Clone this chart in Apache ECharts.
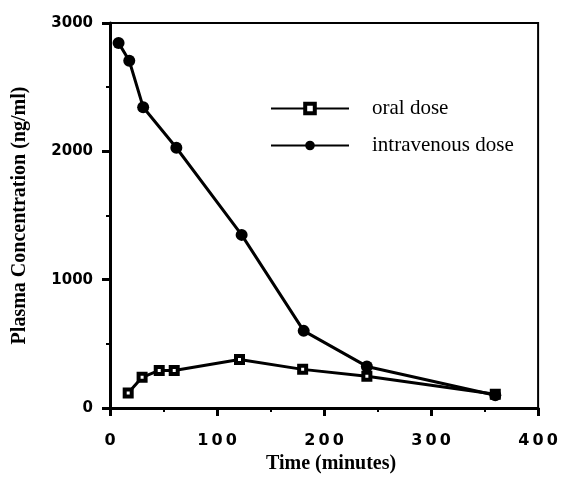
<!DOCTYPE html>
<html><head><meta charset="utf-8">
<script src="https://cdn.jsdelivr.net/npm/echarts@6/dist/echarts.min.js"></script>
<style>html,body{margin:0;padding:0;background:#fff}#c{width:561px;height:479px}</style>
</head><body><div id="c"></div>
<script>
const oralTime = [17, 30, 46, 60, 121, 180, 240, 360];
const oralConc = [116, 239, 293, 293, 378, 301, 247, 108];
const ivTime = [8, 18, 31, 62, 123, 181, 240, 360];
const ivConc = [2845, 2706, 2344, 2028, 1349, 601, 324, 100];
const seriesNames = ['oral dose', 'intravenous dose'];
const xTitle = 'Time (minutes)';
const yTitle = 'Plasma Concentration (ng/ml)';

const chart = echarts.init(document.getElementById('c'), null, {renderer: 'canvas'});
const pair = (xs, ys) => xs.map((x, i) => [x, ys[i]]);
const spaced = v => String(v).split('').join('\u2009');
chart.setOption({
  animation: false,
  backgroundColor: '#fff',
  grid: {left: 110, right: 21, top: 23, bottom: 67, show: true, borderColor: '#000', borderWidth: 2},
  xAxis: {
    type: 'value', min: 0, max: 400, interval: 100,
    name: xTitle, nameLocation: 'middle', nameGap: 46,
    nameTextStyle: {fontFamily: 'Liberation Serif', fontSize: 20, fontWeight: 'bold', color: '#000', padding: [0, 0, 0, 14]},
    axisLine: {lineStyle: {color: '#000', width: 3}},
    axisTick: {length: 8, lineStyle: {color: '#000', width: 3}},
    minorTick: {show: true, splitNumber: 2, length: 4, lineStyle: {color: '#000', width: 2}},
    axisLabel: {margin: 25, fontFamily: 'DejaVu Sans', fontSize: 16, fontWeight: 'bold', color: '#000', formatter: spaced},
    splitLine: {show: false}
  },
  yAxis: {
    type: 'value', min: 0, max: 3000, interval: 1000,
    name: yTitle, nameLocation: 'middle', nameGap: 80,
    nameTextStyle: {fontFamily: 'Liberation Serif', fontSize: 20, fontWeight: 'bold', color: '#000'},
    axisLine: {lineStyle: {color: '#000', width: 3}},
    axisTick: {length: 8, lineStyle: {color: '#000', width: 3}},
    minorTick: {show: true, splitNumber: 2, length: 4, lineStyle: {color: '#000', width: 2}},
    axisLabel: {margin: 17, fontFamily: 'DejaVu Sans', fontSize: 15, fontWeight: 'bold', color: '#000', formatter: v => String(v)},
    splitLine: {show: false}
  },
  legend: {
    orient: 'vertical', left: 265, top: 93, itemWidth: 78, itemHeight: 12, itemGap: 16,
    textStyle: {fontFamily: 'Liberation Serif', fontSize: 21, color: '#000', padding: [0, 0, 0, 18]},
    data: [
      {name: seriesNames[0], itemStyle: {color: '#fff', borderColor: '#000', borderWidth: 4}},
      {name: seriesNames[1]}
    ]
  },
  series: [
    {
      name: seriesNames[0], type: 'line', data: pair(oralTime, oralConc),
      symbol: 'rect', symbolSize: 7, showAllSymbol: true,
      lineStyle: {color: '#000', width: 3},
      itemStyle: {color: '#fff', borderColor: '#000', borderWidth: 4}
    },
    {
      name: seriesNames[1], type: 'line', data: pair(ivTime, ivConc),
      symbol: 'circle', symbolSize: 12, showAllSymbol: true,
      lineStyle: {color: '#000', width: 3},
      itemStyle: {color: '#000', borderColor: '#000', borderWidth: 0}
    }
  ]
});
</script></body></html>
